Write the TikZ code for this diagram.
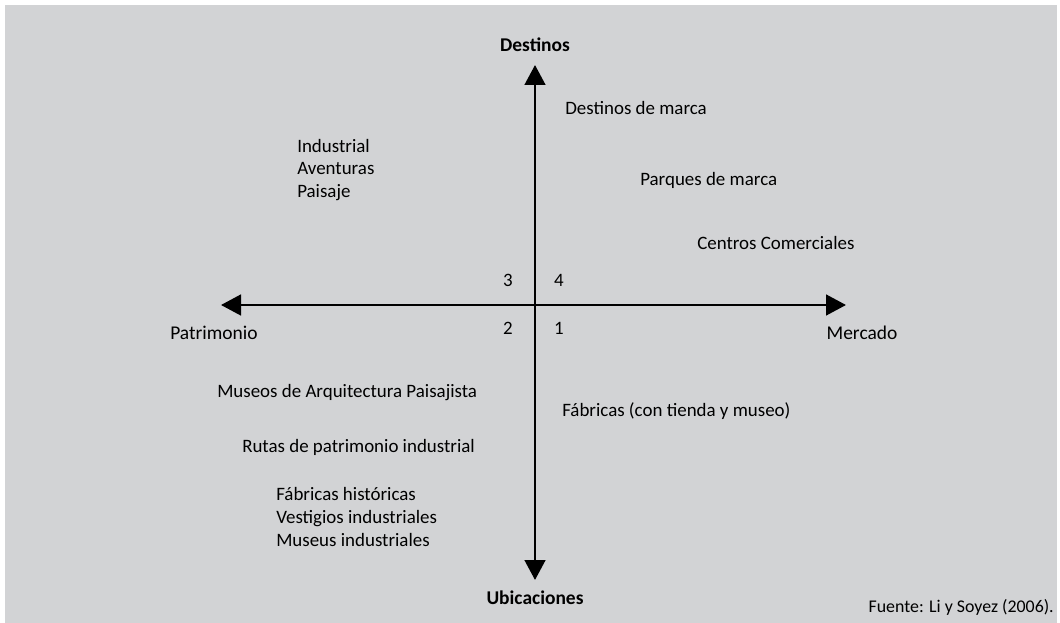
\documentclass[tikz,border=0pt]{standalone}
\usepackage{fontspec}
\setmainfont{Carlito}
\usepackage{xcolor}
\usetikzlibrary{arrows.meta, positioning}
\definecolor{panelgray}{HTML}{D2D3D5}

\begin{document}
\begin{tikzpicture}[x=0.75pt,y=-0.75pt,
                    axis/.style={line width=2pt,{Triangle[width=15.5pt,length=15pt]}-{Triangle[width=15.5pt,length=15pt]}},
                    item node/.style={anchor=west,inner sep=0pt,align=left,font=\fontsize{14.2}{16.9}\selectfont},
                    pole node/.style={inner sep=0pt,font=\fontsize{14.6}{16}\selectfont\bfseries},
                    end node/.style={inner sep=0pt,font=\fontsize{14.6}{16}\selectfont},
                    quad node/.style={inner sep=0pt,font=\fontsize{14.2}{16}\selectfont}]

  \useasboundingbox (0,0) rectangle (1060,623);
  \fill[panelgray] (5,5) rectangle (1057,623);

  % axes
  \coordinate (top) at (535,65);
  \coordinate (bottom) at (535,580);
  \coordinate (left) at (221,305);
  \coordinate (right) at (846,305);

  \draw[axis] (bottom) -- (top);
  \draw[axis] (left) -- (right);

  \node[pole node] (destinos) at (535,45) {Destinos};
  \node[pole node] (ubicaciones) at (535,598) {Ubicaciones};
  \node[end node] (patrimonio) at (214,333) {Patrimonio};
  \node[end node] (mercado) at (862,333) {Mercado};

  \node[quad node] (q3) at (508,280) {3};
  \node[quad node] (q4) at (559,280) {4};
  \node[quad node] (q2) at (508,328) {2};
  \node[quad node] (q1) at (559,328) {1};

  % quadrant 4
  \node[item node] (dmarca) at (565,108) {Destinos de marca};
  \node[item node] (pmarca) at (640,180) {Parques de marca};
  \node[item node] (centros) at (697,243) {Centros Comerciales};

  % quadrant 3
  \node[item node] (paisaje) at (297,170) {Industrial\\Aventuras\\Paisaje};

  % quadrant 2
  \node[item node] (museos) at (217,393) {Museos de Arquitectura Paisajista};
  \node[item node] (rutas) at (242,447) {Rutas de patrimonio industrial};
  \node[item node] (fabhist) at (276,517) {Fábricas históricas\\Vestigios industriales\\Museus industriales};

  % quadrant 1
  \node[item node] (fabricas) at (562,411) {Fábricas (con tienda y museo)};

  \node[anchor=east,inner sep=0pt,font=\fontsize{13.4}{15}\selectfont] (fuente) at (1054,607) {Fuente: Li y Soyez (2006).};

\end{tikzpicture}
\end{document}
